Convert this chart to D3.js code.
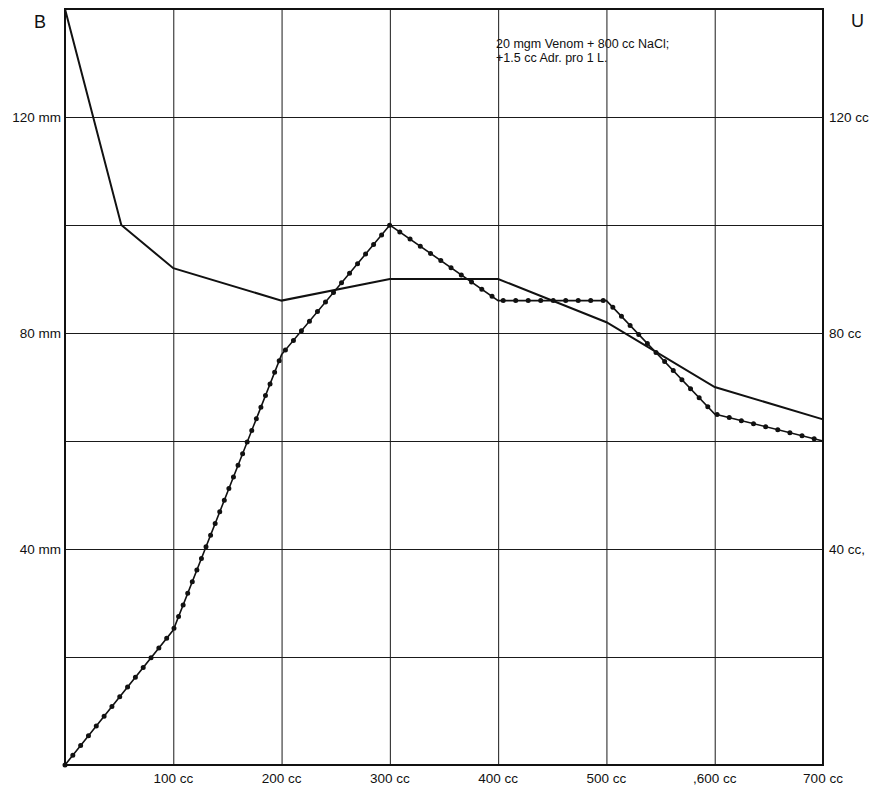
<!DOCTYPE html>
<html lang="en">
<head>
    <meta charset="UTF-8">
    <title>Venom + Adrenalin: blood pressure and urine</title>
    <script src="https://cdnjs.cloudflare.com/ajax/libs/d3/7.8.5/d3.min.js"></script>
    <style>
        body {
            margin: 0;
            padding: 0;
            background: #fff;
        }
        svg text {
            font-family: "Liberation Sans", Arial, sans-serif;
            fill: #111;
        }
        .grid line { stroke: #1a1a1a; stroke-width: 1; }
        .grid path { display: none; }
    </style>
</head>
<body>
    <div id="chart"></div>

    <script>
        // infused volume (cc) at each reading
        const bVolume = [0, 52, 100, 200, 300, 400, 500, 600, 700];
        // blood pressure B (mm Hg)
        const bPressure = [140, 100, 92, 86, 90, 90, 82, 70, 64];

        const uVolume = [0, 100, 200, 300, 400, 500, 600, 700];
        // urine output U (cc)
        const uOutput = [0, 25, 76, 100, 86, 86, 65, 60];

        const xTicks = [100, 200, 300, 400, 500, 600, 700];
        const xTickLabels = ['100 cc', '200 cc', '300 cc', '400 cc', '500 cc', ',600 cc', '700 cc'];
        const yTicks = [40, 80, 120];
        const leftLabels = ['40 mm', '80 mm', '120 mm'];
        const rightLabels = ['40 cc,', '80 cc', '120 cc'];
        const noteLines = ['20 mgm Venom + 800 cc NaCl;', '+1.5 cc Adr. pro 1 L.'];

        const width = 880, height = 788;
        const plotLeft = 65, plotRight = 823, plotTop = 9, plotBottom = 765;

        const x = d3.scaleLinear().domain([0, 700]).range([plotLeft, plotRight]);
        const y = d3.scaleLinear().domain([0, 140]).range([plotBottom, plotTop]);

        const svg = d3.select('#chart')
            .append('svg')
            .attr('width', width)
            .attr('height', height);

        // grid
        svg.append('g')
            .attr('class', 'grid')
            .attr('transform', `translate(0,${plotBottom})`)
            .call(d3.axisBottom(x).tickValues(d3.range(100, 700, 100))
                .tickSize(-(plotBottom - plotTop)).tickFormat(''));

        svg.append('g')
            .attr('class', 'grid')
            .attr('transform', `translate(${plotLeft},0)`)
            .call(d3.axisLeft(y).tickValues(d3.range(20, 140, 20))
                .tickSize(-(plotRight - plotLeft)).tickFormat(''));

        // frame
        svg.append('rect')
            .attr('x', plotLeft).attr('y', plotTop)
            .attr('width', plotRight - plotLeft).attr('height', plotBottom - plotTop)
            .attr('fill', 'none')
            .attr('stroke', '#111')
            .attr('stroke-width', 2);

        // tick labels
        svg.append('g').selectAll('text')
            .data(xTicks)
            .enter().append('text')
            .attr('x', d => x(d))
            .attr('y', plotBottom + 18)
            .attr('text-anchor', 'middle')
            .attr('font-size', 13.5)
            .text((d, i) => xTickLabels[i]);

        svg.append('g').selectAll('text')
            .data(yTicks)
            .enter().append('text')
            .attr('x', plotLeft - 4)
            .attr('y', d => y(d) + 5)
            .attr('text-anchor', 'end')
            .attr('font-size', 13.5)
            .text((d, i) => leftLabels[i]);

        svg.append('g').selectAll('text')
            .data(yTicks)
            .enter().append('text')
            .attr('x', plotRight + 6)
            .attr('y', d => y(d) + 5)
            .attr('text-anchor', 'start')
            .attr('font-size', 13.5)
            .text((d, i) => rightLabels[i]);

        // axis titles
        svg.append('text')
            .attr('x', 34).attr('y', 28)
            .attr('font-size', 18)
            .text('B');
        svg.append('text')
            .attr('x', 851).attr('y', 27)
            .attr('font-size', 18)
            .text('U');

        // annotation
        svg.append('g').selectAll('text')
            .data(noteLines)
            .enter().append('text')
            .attr('x', 496)
            .attr('y', (d, i) => 48 + i * 14)
            .attr('font-size', 12.5)
            .text(d => d);

        const line = d3.line();

        // blood pressure line
        svg.append('path')
            .datum(bVolume.map((v, i) => [x(v), y(bPressure[i])]))
            .attr('d', line)
            .attr('fill', 'none')
            .attr('stroke', '#111')
            .attr('stroke-width', 2);

        // urine line: thin stroke plus beaded dots
        const uPath = uVolume.map((v, i) => [x(v), y(uOutput[i])]);
        svg.append('path')
            .datum(uPath)
            .attr('d', line)
            .attr('fill', 'none')
            .attr('stroke', '#111')
            .attr('stroke-width', 1.6);
        svg.append('path')
            .datum(uPath)
            .attr('d', line)
            .attr('fill', 'none')
            .attr('stroke', '#111')
            .attr('stroke-width', 5)
            .attr('stroke-linecap', 'round')
            .attr('stroke-dasharray', '0 12.5');
    </script>
</body>
</html>
